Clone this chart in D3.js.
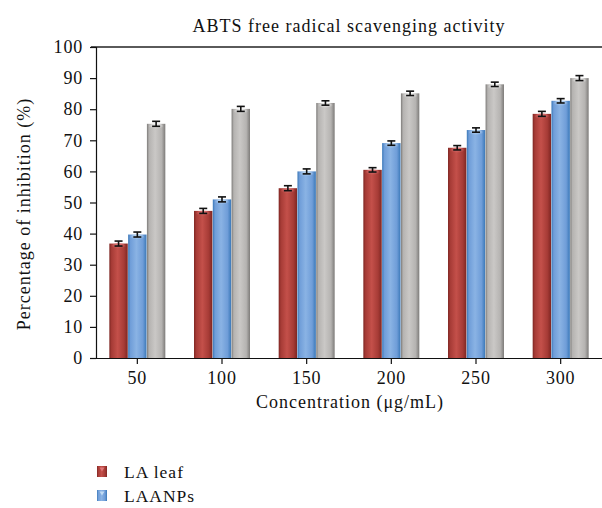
<!DOCTYPE html>
<html>
<head>
<meta charset="utf-8">
<script src="https://cdn.jsdelivr.net/npm/d3@7/dist/d3.min.js"></script>
<style>
  html, body { margin: 0; padding: 0; background: #fff; }
  svg { display: block; font-family: "Liberation Serif", "DejaVu Serif", serif; }
</style>
</head>
<body>
<svg id="chart" width="602" height="508"></svg>
<script>
// Concentrations on the x axis
const concentrations = ["50", "100", "150", "200", "250", "300"];
// Series names
const seriesNames = ["LA leaf", "LAANPs", "Ascorbic acid"];
// Percentage of inhibition for each series
const laLeaf = [36.8, 47.3, 54.6, 60.5, 67.6, 78.5];
const laanps = [39.7, 51.0, 60.0, 69.1, 73.3, 82.7];
const ascorbic = [75.3, 80.1, 82.0, 85.1, 88.0, 90.0];
// Error bar half-lengths
const laLeafErr = [0.8, 0.8, 0.8, 0.7, 0.7, 0.8];
const laanpsErr = [0.8, 0.8, 0.8, 0.7, 0.7, 0.7];
const ascorbicErr = [0.8, 0.8, 0.7, 0.7, 0.7, 0.8];
// Y axis ticks
const yTicks = [0, 10, 20, 30, 40, 50, 60, 70, 80, 90, 100];

const seriesValues = [laLeaf, laanps, ascorbic];
const seriesErrors = [laLeafErr, laanpsErr, ascorbicErr];
const palette = [
  { base: "#a63b36", dark: "#7e2622", light: "#c4504a", top: "#e0787a" },
  { base: "#6f9dd8", dark: "#3a78b8", light: "#8ab3e4", top: "#c2dcf4" },
  { base: "#b5b3b1", dark: "#7d7b79", light: "#cac8c6", top: "#f2f2f2" }
];
const fontStack = "Liberation Serif, DejaVu Serif, serif";

const svg = d3.select("#chart");
const W = 602;
const plotTop = 47, plotBottom = 358;

const x0 = d3.scaleBand().domain(concentrations).range([95, 603]).paddingInner(0.33).paddingOuter(0.165);
const x1 = d3.scaleBand().domain(d3.range(seriesNames.length)).range([0, x0.bandwidth()]).padding(0.02);
const y = d3.scaleLinear().domain([0, 100]).range([plotBottom, plotTop]);

// Gradients giving each bar a rounded, cylinder-like shading
const defs = svg.append("defs");
palette.forEach((c, i) => {
  const g = defs.append("linearGradient").attr("id", "grad" + i)
    .attr("x1", "0%").attr("x2", "100%").attr("y1", "0%").attr("y2", "0%");
  g.append("stop").attr("offset", "0%").attr("stop-color", c.dark);
  g.append("stop").attr("offset", "12%").attr("stop-color", c.base);
  g.append("stop").attr("offset", "45%").attr("stop-color", c.light);
  g.append("stop").attr("offset", "80%").attr("stop-color", c.base);
  g.append("stop").attr("offset", "100%").attr("stop-color", c.dark);
  const t = defs.append("radialGradient").attr("id", "cap" + i)
    .attr("cx", "50%").attr("cy", "20%").attr("r", "60%");
  t.append("stop").attr("offset", "0%").attr("stop-color", c.top).attr("stop-opacity", 1);
  t.append("stop").attr("offset", "100%").attr("stop-color", c.top).attr("stop-opacity", 0);
});

// Title
svg.append("text").attr("x", 349).attr("y", 32).attr("text-anchor", "middle")
  .attr("font-size", 18).attr("letter-spacing", 1).attr("fill", "#111")
  .text("ABTS free radical scavenging activity");

// Top frame line
svg.append("line").attr("x1", 91).attr("x2", W).attr("y1", y(100)).attr("y2", y(100))
  .attr("stroke", "#5a5a5a").attr("stroke-width", 2);

// Bars
const groups = svg.append("g").selectAll("g").data(concentrations).join("g")
  .attr("transform", d => `translate(${x0(d)},0)`);

seriesNames.forEach((name, si) => {
  groups.append("rect")
    .attr("x", x1(si)).attr("width", x1.bandwidth())
    .attr("y", (d, i) => y(seriesValues[si][i]))
    .attr("height", (d, i) => plotBottom - y(seriesValues[si][i]))
    .attr("fill", `url(#grad${si})`);
  groups.append("ellipse")
    .attr("cx", x1(si) + x1.bandwidth() / 2)
    .attr("cy", (d, i) => y(seriesValues[si][i]) + 3)
    .attr("rx", x1.bandwidth() / 2 - 2).attr("ry", 3.5)
    .attr("fill", `url(#cap${si})`);
  // Error bars
  const eb = groups.append("g").attr("stroke", "#111").attr("stroke-width", 1.6);
  const cx = x1(si) + x1.bandwidth() / 2;
  eb.append("line").attr("x1", cx).attr("x2", cx)
    .attr("y1", (d, i) => y(seriesValues[si][i] + seriesErrors[si][i]))
    .attr("y2", (d, i) => y(seriesValues[si][i] - seriesErrors[si][i]));
  eb.append("line").attr("x1", cx - 4).attr("x2", cx + 4)
    .attr("y1", (d, i) => y(seriesValues[si][i] + seriesErrors[si][i]))
    .attr("y2", (d, i) => y(seriesValues[si][i] + seriesErrors[si][i]));
  eb.append("line").attr("x1", cx - 4).attr("x2", cx + 4)
    .attr("y1", (d, i) => y(seriesValues[si][i] - seriesErrors[si][i]))
    .attr("y2", (d, i) => y(seriesValues[si][i] - seriesErrors[si][i]));
});

// Y axis
const yAxis = svg.append("g").attr("transform", `translate(96,0)`)
  .call(d3.axisLeft(y).tickValues(yTicks).tickSize(6).tickPadding(7));
yAxis.select(".domain").attr("stroke", "#111").attr("stroke-width", 1.2);
yAxis.selectAll(".tick line").attr("stroke", "#111").attr("stroke-width", 1.2);
yAxis.selectAll("text").attr("font-size", 18).attr("letter-spacing", 0.8).attr("fill", "#111")
  .attr("font-family", fontStack);

// X axis
const xAxis = svg.append("g").attr("transform", `translate(0,${plotBottom})`)
  .call(d3.axisBottom(x0).tickSize(6).tickSizeOuter(0).tickPadding(7));
xAxis.select(".domain").attr("d", `M91,0.5H${W}`).attr("stroke", "#111").attr("stroke-width", 1.2);
xAxis.selectAll(".tick line").attr("stroke", "#111").attr("stroke-width", 1.2);
xAxis.selectAll("text").attr("font-size", 18).attr("letter-spacing", 0.8).attr("fill", "#111")
  .attr("font-family", fontStack);

// Axis titles
svg.append("text").attr("transform", "translate(30,214) rotate(-90)")
  .attr("text-anchor", "middle").attr("font-size", 18).attr("letter-spacing", 1)
  .attr("fill", "#111").text("Percentage of inhibition (%)");
svg.append("text").attr("x", 350).attr("y", 408).attr("text-anchor", "middle")
  .attr("font-size", 18).attr("letter-spacing", 1).attr("fill", "#111")
  .text("Concentration (μg/mL)");

// Legend (first two entries fit in the frame)
const legend = svg.append("g").selectAll("g").data(seriesNames.slice(0, 2)).join("g")
  .attr("transform", (d, i) => `translate(97,${466 + i * 24})`);
legend.append("rect").attr("width", 10).attr("height", 11)
  .attr("fill", (d, i) => `url(#grad${i})`);
legend.append("path").attr("d", "M2.5,1.5L7.5,1.5L5,5.5Z")
  .attr("fill", (d, i) => palette[i].top);
legend.append("text").attr("x", 27).attr("y", 12).attr("font-size", 17.5)
  .attr("letter-spacing", 1).attr("fill", "#111")
  .text(d => d);
</script>
</body>
</html>
